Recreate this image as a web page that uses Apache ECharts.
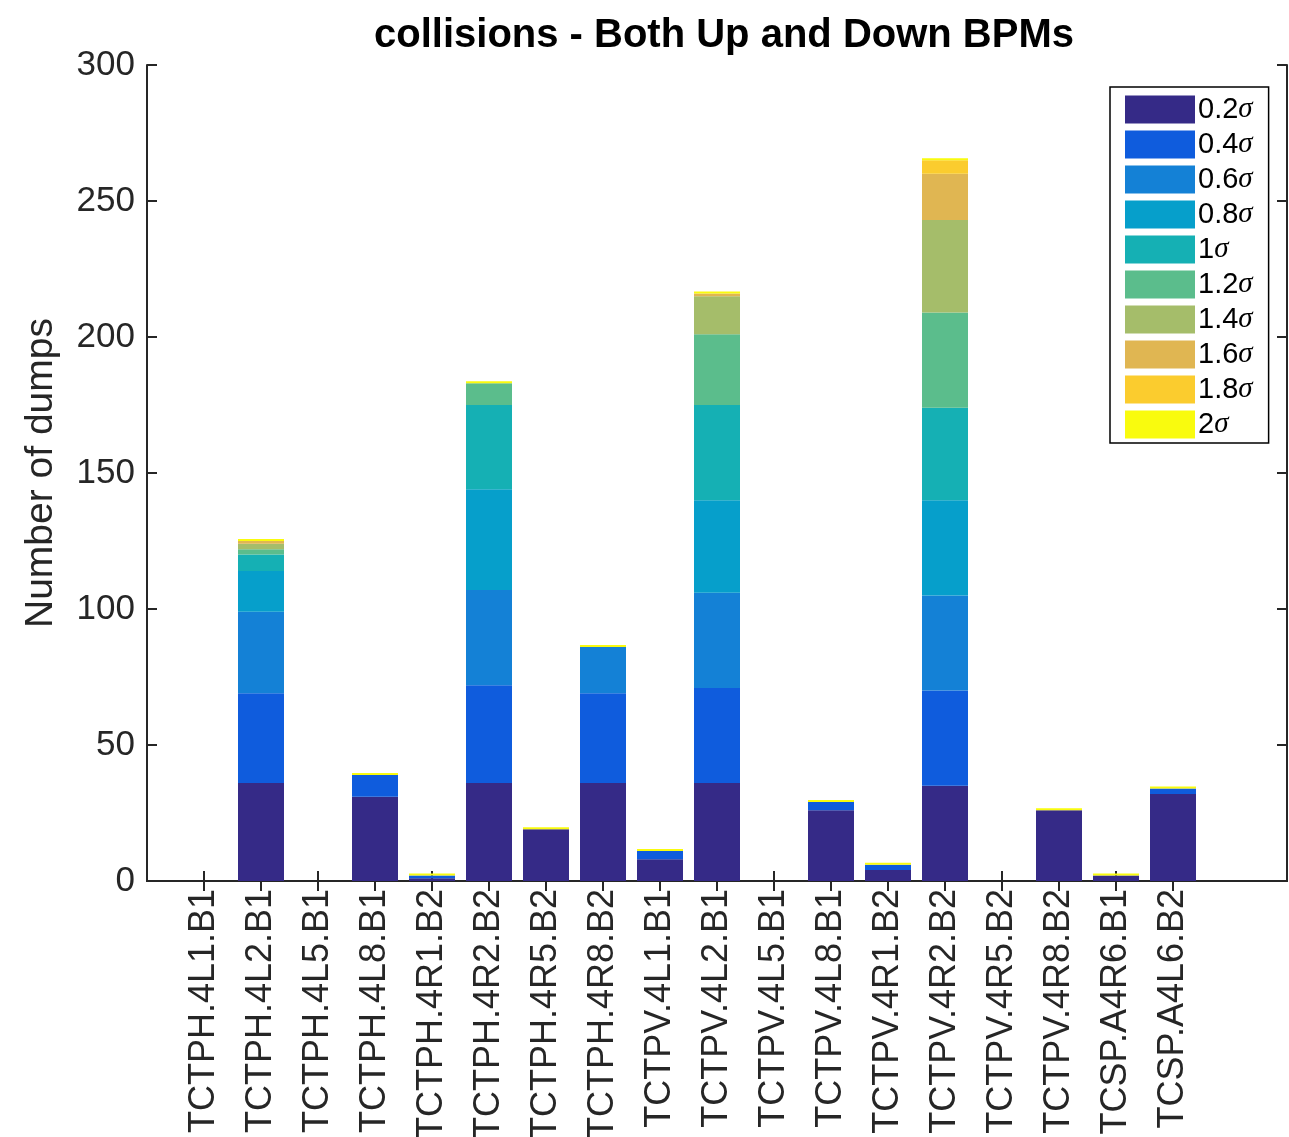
<!DOCTYPE html>
<html>
<head>
<meta charset="utf-8">
<title>collisions - Both Up and Down BPMs</title>
<script src="https://cdn.jsdelivr.net/npm/echarts@6/dist/echarts.min.js"></script>
<style>
  html, body { margin: 0; padding: 0; background: #fff; }
  #chart { width: 1289px; height: 1137px; }
</style>
</head>
<body>
<div id="chart"></div>
<script>
// Collimator names along the x axis
const collimators = [
  'TCTPH.4L1.B1', 'TCTPH.4L2.B1', 'TCTPH.4L5.B1', 'TCTPH.4L8.B1',
  'TCTPH.4R1.B2', 'TCTPH.4R2.B2', 'TCTPH.4R5.B2', 'TCTPH.4R8.B2',
  'TCTPV.4L1.B1', 'TCTPV.4L2.B1', 'TCTPV.4L5.B1', 'TCTPV.4L8.B1',
  'TCTPV.4R1.B2', 'TCTPV.4R2.B2', 'TCTPV.4R5.B2', 'TCTPV.4R8.B2',
  'TCSP.A4R6.B1', 'TCSP.A4L6.B2'
];

// Beam offset classes (stack order, bottom to top)
const offsetLabels = ['0.2', '0.4', '0.6', '0.8', '1', '1.2', '1.4', '1.6', '1.8', '2'];

// Number of dumps per collimator for each offset class
const dumps02 = [0, 36, 0, 31, 1, 36, 19, 36, 8, 36, 0, 26, 4, 35, 0, 26, 2, 32];
const dumps04 = [0, 33, 0, 8, 1, 36, 0, 33, 3, 35, 0, 3, 2, 35, 0, 0, 0, 2];
const dumps06 = [0, 30, 0, 0, 0, 35, 0, 17, 0, 35, 0, 0, 0, 35, 0, 0, 0, 0];
const dumps08 = [0, 15, 0, 0, 0, 37, 0, 0, 0, 34, 0, 0, 0, 35, 0, 0, 0, 0];
const dumps10 = [0, 6, 0, 0, 0, 31, 0, 0, 0, 35, 0, 0, 0, 34, 0, 0, 0, 0];
const dumps12 = [0, 2, 0, 0, 0, 8, 0, 0, 0, 26, 0, 0, 0, 35, 0, 0, 0, 0];
const dumps14 = [0, 2, 0, 0, 0, 0, 0, 0, 0, 14, 0, 0, 0, 34, 0, 0, 0, 0];
const dumps16 = [0, 1, 0, 0, 0, 0, 0, 0, 0, 1, 0, 0, 0, 17, 0, 0, 0, 0];
const dumps18 = [0, 0, 0, 0, 0, 0, 0, 0, 0, 0, 0, 0, 0, 5, 0, 0, 0, 0];
const dumps20 = [0, 0, 0, 0, 0, 0, 0, 0, 0, 0, 0, 0, 0, 0, 0, 0, 0, 0];

// Y axis ticks
const yTicks = [0, 50, 100, 150, 200, 250, 300];

// parula-like colour ramp
const colors = ['#352a87', '#0f5cdd', '#1481d6', '#069fcb', '#15b0b4',
                '#5bbd8c', '#a5bd6a', '#e0b652', '#fbcc2e', '#f9fb0e'];

const allDumps = [dumps02, dumps04, dumps06, dumps08, dumps10,
                  dumps12, dumps14, dumps16, dumps18, dumps20];

// The x axis runs from 0 to 20 with the collimators at 1..18
const axisCats = [''].concat(collimators, ['', '']);
const totals = collimators.map((_, i) => allDumps.reduce((s, d) => s + d[i], 0));

const AXIS_COLOR = '#262626';
const FONT = 'Liberation Sans, Arial, Helvetica, sans-serif';

const series = allDumps.map((vals, k) => {
  const isTop = k === allDumps.length - 1;
  const data = [null].concat(
    vals.map((v, i) => (isTop && totals[i] === 0) ? null : v),
    [null, null]
  );
  return {
    name: offsetLabels[k] + 'σ',
    type: 'bar',
    stack: 'dumps',
    barWidth: 46,
    barMinHeight: isTop ? 2 : 0,
    data: data,
    itemStyle: { color: colors[k] },
    emphasis: { disabled: true },
    animation: false
  };
});

const tickShown = (idx) => idx >= 1 && idx <= collimators.length;

const chart = echarts.init(document.getElementById('chart'), null, { renderer: 'canvas' });
chart.setOption({
  backgroundColor: '#ffffff',
  animation: false,
  title: {
    text: 'collisions - Both Up and Down BPMs',
    left: 719,
    top: 11,
    textAlign: 'center',
    textStyle: { fontFamily: FONT, fontWeight: 'bold', fontSize: 40, color: '#000' }
  },
  legend: {
    orient: 'vertical',
    left: 1110,
    top: 87,
    padding: [8, 16, 4, 15],
    itemWidth: 70,
    itemHeight: 28,
    itemGap: 6,
    borderColor: '#000',
    borderWidth: 1.5,
    backgroundColor: '#fff',
    icon: 'rect',
    data: series.map(s => s.name),
    formatter: (name) => '{n|' + name.replace('σ', '') + '}{s|σ}',
    textStyle: {
      padding: [0, 0, 0, -2],
      rich: {
        n: { fontFamily: FONT, fontSize: 29, lineHeight: 29, color: '#000' },
        s: { fontFamily: 'Liberation Serif, DejaVu Serif, serif', fontStyle: 'italic', fontSize: 29, lineHeight: 29, color: '#000' }
      }
    }
  },
  grid: { left: 147, top: 65, width: 1140, height: 816, containLabel: false, outerBoundsMode: 'none' },
  xAxis: [
    {
      type: 'category',
      data: axisCats,
      boundaryGap: false,
      position: 'bottom',
      axisLine: { show: true, lineStyle: { color: AXIS_COLOR, width: 2 } },
      axisTick: { show: true, inside: true, length: 10, interval: tickShown,
                  lineStyle: { color: AXIS_COLOR, width: 2 } },
      axisLabel: {
        interval: 0, rotate: 90, margin: 8,
        fontFamily: FONT, fontSize: 36, color: '#262626'
      },
      splitLine: { show: false }
    },
    {
      type: 'category',
      data: axisCats,
      boundaryGap: false,
      position: 'top',
      axisLine: { show: true, lineStyle: { color: AXIS_COLOR, width: 2 } },
      axisTick: { show: true, inside: true, length: 10, interval: tickShown,
                  lineStyle: { color: AXIS_COLOR, width: 2 } },
      axisLabel: { show: false },
      splitLine: { show: false }
    }
  ],
  yAxis: [
    {
      type: 'value',
      min: yTicks[0],
      max: yTicks[yTicks.length - 1],
      interval: yTicks[1] - yTicks[0],
      position: 'left',
      name: 'Number of dumps',
      nameLocation: 'middle',
      nameGap: 86,
      nameTextStyle: { fontFamily: FONT, fontSize: 39, color: '#262626' },
      axisLine: { show: true, lineStyle: { color: AXIS_COLOR, width: 2 } },
      axisTick: { show: true, inside: true, length: 10, lineStyle: { color: AXIS_COLOR, width: 2 } },
      axisLabel: { fontFamily: FONT, fontSize: 35, color: '#262626', margin: 12 },
      splitLine: { show: false }
    },
    {
      type: 'value',
      min: yTicks[0],
      max: yTicks[yTicks.length - 1],
      interval: yTicks[1] - yTicks[0],
      position: 'right',
      axisLine: { show: true, lineStyle: { color: AXIS_COLOR, width: 2 } },
      axisTick: { show: true, inside: true, length: 10, lineStyle: { color: AXIS_COLOR, width: 2 } },
      axisLabel: { show: false },
      splitLine: { show: false }
    }
  ],
  series: series
});
</script>
</body>
</html>
